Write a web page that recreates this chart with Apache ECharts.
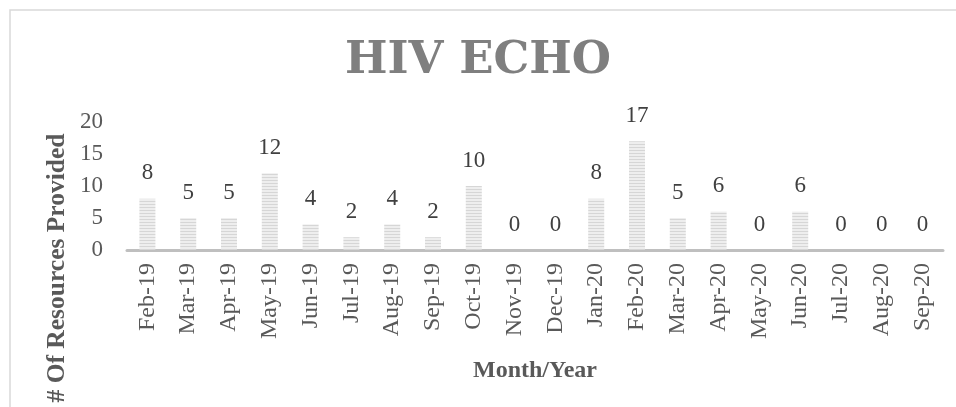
<!DOCTYPE html>
<html>
<head>
<meta charset="utf-8">
<script src="https://cdn.jsdelivr.net/npm/echarts@6/dist/echarts.min.js"></script>
<style>
  html, body { margin: 0; padding: 0; background: #fff; }
  #chart { width: 956px; height: 407px; }
</style>
</head>
<body>
<div id="chart"></div>
<script>
// month labels along the bottom
const months = ['Feb-19', 'Mar-19', 'Apr-19', 'May-19', 'Jun-19', 'Jul-19', 'Aug-19', 'Sep-19', 'Oct-19',
  'Nov-19', 'Dec-19', 'Jan-20', 'Feb-20', 'Mar-20', 'Apr-20', 'May-20', 'Jun-20', 'Jul-20', 'Aug-20', 'Sep-20'];
// resources provided per month
const resources = [8, 5, 5, 12, 4, 2, 4, 2, 10, 0, 0, 8, 17, 5, 6, 0, 6, 0, 0, 0];
const yTicks = [0, 5, 10, 15, 20];

const serif = "'Liberation Serif', 'Times New Roman', serif";

// striped fill like the excel pattern
const makeStripes = () => {
    const c = document.createElement('canvas');
    c.width = 4;
    c.height = 3;
    const ctx = c.getContext('2d');
    ctx.fillStyle = '#eeeeee';
    ctx.fillRect(0, 0, 4, 3);
    ctx.fillStyle = '#d6d6d6';
    ctx.fillRect(0, 0, 4, 1);
    return c;
};

const myChart = echarts.init(document.getElementById('chart'));

const option = {
    backgroundColor: '#fff',
    animation: false,
    title: {
        text: 'HIV ECHO',
        left: 'center',
        top: 34,
        textStyle: {
            fontFamily: "'DejaVu Serif', serif",
            fontWeight: 'bold',
            fontSize: 45,
            color: '#7f7f7f'
        }
    },
    graphic: [
        {
            type: 'rect',
            shape: { x: 10, y: 10, width: 1000, height: 500 },
            style: { fill: 'none', stroke: '#d9d9d9', lineWidth: 1.5 },
            silent: true
        },
        {
            type: 'text',
            x: 57,
            y: 268,
            rotation: Math.PI / 2,
            style: {
                text: '# Of Resources Provided',
                fontFamily: serif,
                fontWeight: 'bold',
                fontSize: 25.5,
                fill: '#595959',
                textAlign: 'center',
                textVerticalAlign: 'middle'
            }
        }
    ],
    grid: {
        left: 127,
        right: 13,
        top: 122,
        bottom: 157,
        containLabel: false
    },
    xAxis: {
        type: 'category',
        data: months,
        name: 'Month/Year',
        nameLocation: 'middle',
        nameGap: 109,
        nameTextStyle: {
            fontFamily: serif,
            fontWeight: 'bold',
            fontSize: 24,
            color: '#595959'
        },
        axisLine: { lineStyle: { color: '#bfbfbf', width: 3 } },
        axisTick: { show: false },
        axisLabel: {
            rotate: 90,
            margin: 13,
            interval: 0,
            fontFamily: serif,
            fontSize: 24,
            color: '#595959'
        }
    },
    yAxis: {
        type: 'value',
        min: yTicks[0],
        max: yTicks[yTicks.length - 1],
        interval: 5,
        splitLine: { show: false },
        axisLine: { show: false },
        axisTick: { show: false },
        axisLabel: {
            margin: 24,
            fontFamily: serif,
            fontSize: 23,
            color: '#595959'
        }
    },
    series: [
        {
            name: 'Resources',
            type: 'bar',
            data: resources,
            barWidth: 16,
            itemStyle: {
                color: { image: makeStripes(), repeat: 'repeat' }
            },
            label: {
                show: true,
                position: 'top',
                distance: 14,
                fontFamily: serif,
                fontSize: 23,
                color: '#404040'
            }
        }
    ]
};

myChart.setOption(option);
window.addEventListener('resize', () => myChart.resize());
</script>
</body>
</html>
